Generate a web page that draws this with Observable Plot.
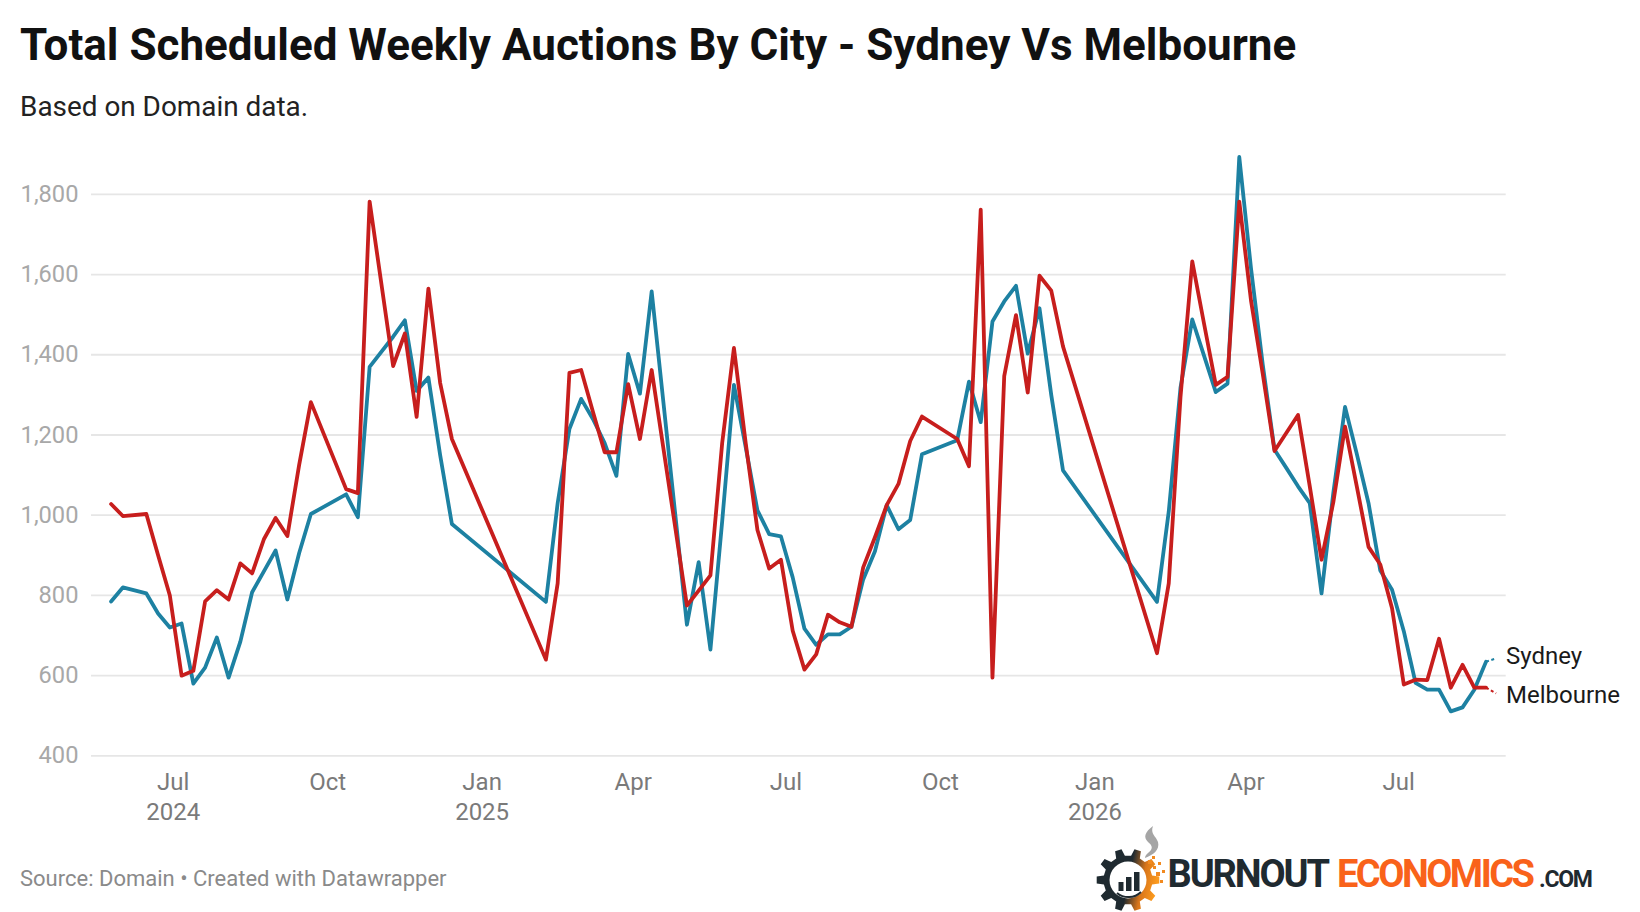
<!DOCTYPE html>
<html>
<head>
<meta charset="utf-8">
<script src="https://cdn.jsdelivr.net/npm/d3@7"></script>
<script src="https://cdn.jsdelivr.net/npm/@observablehq/plot@0.6"></script>
<style>
html,body{margin:0;padding:0;background:#fff;width:1640px;height:912px;overflow:hidden;font-family:Roboto,sans-serif}
#title{position:absolute;left:20px;top:18px;font-size:44px;font-weight:700;color:#111;line-height:54px;white-space:nowrap}
#subtitle{position:absolute;left:20px;top:90px;font-size:27.9px;color:#222;line-height:34px;white-space:nowrap}
#chart{position:absolute;left:0;top:130px}
#source{position:absolute;left:20px;top:864px;font-size:22px;color:#8a8a8a;line-height:30px;white-space:nowrap}
#logo{position:absolute;left:1090px;top:820px}
</style>
</head>
<body>
<div id="title">Total Scheduled Weekly Auctions By City - Sydney Vs Melbourne</div>
<div id="subtitle">Based on Domain data.</div>
<div id="chart"></div>
<div id="source">Source: Domain • Created with Datawrapper</div>
<div id="logo"></div>
<script>
const startDate = "2024-05-25";
const weekNumbers = [0,1,3,4,5,6,7,8,9,10,11,12,13,14,15,16,17,20,21,22,24,25,26,27,28,29,37,38,39,40,41,42,43,44,45,46,49,50,51,52,53,54,55,56,57,58,59,60,61,62,63,64,65,66,67,68,69,72,73,74,75,76,77,78,79,80,81,89,90,91,92,93,94,95,96,97,98,99,100,101,102,103,104,105,106,107,108,109,110,111,112,113,114,115,116,117];
const sydney = [785,820,805,755,720,730,580,620,695,595,685,808,860,912,790,905,1003,1052,995,1370,1445,1486,1310,1343,1150,978,784,1030,1215,1290,1240,1180,1098,1402,1303,1558,727,883,665,985,1325,1170,1012,953,947,845,717,677,703,703,722,840,910,1025,965,988,1152,1187,1333,1232,1483,1533,1572,1403,1516,1300,1112,784,1009,1318,1488,1398,1307,1328,1893,1615,1375,1163,1118,1072,1030,805,1055,1270,1153,1030,862,814,711,582,565,565,511,521,565,635];
const melbourne = [1028,998,1003,900,800,600,612,785,813,790,880,855,940,993,948,1125,1282,1065,1055,1782,1372,1453,1245,1565,1330,1190,640,830,1355,1362,1258,1157,1157,1327,1190,1362,775,812,850,1180,1417,1180,963,867,889,712,615,653,752,733,722,870,945,1025,1078,1185,1246,1190,1122,1762,595,1347,1499,1306,1597,1560,1421,656,830,1295,1633,1478,1325,1345,1782,1535,1352,1160,1205,1250,1072,889,1032,1221,1072,921,877,768,578,590,589,692,570,627,570,570];
const yTicks = [400,600,800,1000,1200,1400,1600,1800];
const xTickDates = ["2024-07-01","2024-10-01","2025-01-01","2025-04-01","2025-07-01","2025-10-01","2026-01-01","2026-04-01","2026-07-01"];
const xTickLabels = ["Jul\n2024","Oct","Jan\n2025","Apr","Jul","Oct","Jan\n2026","Apr","Jul"];
const seriesColors = ["#1d81a2","#c71e1d"];

const weekMs = 7*24*3600*1000;
const start = new Date(startDate+"T00:00:00Z");
const dates = weekNumbers.map(w => new Date(+start + w*weekMs));
const rows = (vals,name) => vals.map((v,i)=>({date:dates[i],value:v,series:name}));
const sydRows = rows(sydney,"Sydney"), melRows = rows(melbourne,"Melbourne");
const ends = [
  {name:"Sydney",date:dates.at(-1),value:sydney.at(-1),to:new Date("2026-08-28"),toValue:643,dy:-4,color:seriesColors[0]},
  {name:"Melbourne",date:dates.at(-1),value:melbourne.at(-1),to:new Date("2026-08-28"),toValue:556,dy:9,color:seriesColors[1]}
];
const tickDates = xTickDates.map(d=>new Date(d+"T00:00:00Z"));

const plot = Plot.plot({
  width:1640, height:690,
  marginLeft:91, marginRight:134.3, marginTop:23.7, marginBottom:64.6,
  style:{fontFamily:"Roboto, sans-serif",background:"transparent",overflow:"visible"},
  x:{type:"utc",domain:[new Date("2024-05-13T08:00:00Z"),new Date("2026-09-03T00:00:00Z")]},
  y:{domain:[400,1900]},
  marks:[
    Plot.gridY(yTicks,{stroke:"#e6e6e6",strokeOpacity:1,strokeWidth:1.8}),
    Plot.axisY(yTicks,{tickSize:0,tickPadding:13,fontSize:23.7,fill:"#a8a8a8",tickFormat:d3.format(","),label:null,textAnchor:"end"}),
    Plot.axisX(tickDates,{tickSize:0,tickPadding:12,fontSize:24,fill:"#7a7a7a",lineHeight:1.27,label:null,lineAnchor:"top",tickFormat:d=>xTickLabels[tickDates.findIndex(t=>+t===+d)]}),
    Plot.line(sydRows,{x:"date",y:"value",stroke:seriesColors[0],strokeWidth:3.8,strokeLinejoin:"round",strokeLinecap:"round"}),
    Plot.line(melRows,{x:"date",y:"value",stroke:seriesColors[1],strokeWidth:3.8,strokeLinejoin:"round",strokeLinecap:"round"}),
    Plot.link(ends,{x1:"date",y1:"value",x2:"to",y2:"toValue",stroke:"color",strokeWidth:2,strokeDasharray:"3,2.5"}),
    Plot.text(ends,{x:"date",y:"value",text:"name",fontSize:24,fill:"#1a1a1a",textAnchor:"start",
      render(index,scales,values,dims,ctx,next){const g=next(index,scales,values,dims,ctx);
        d3.select(g).selectAll("text").each(function(_,j){const i=index[j];d3.select(this).attr("dy",null).attr("transform",`translate(${values.x[i]+20},${values.y[i]+ends[i].dy})`).attr("x",null).attr("y",null).attr("dominant-baseline","middle")});
        return g;}})
  ]
});
document.getElementById("chart").append(plot);

// brand mark
function gearPath(cx,cy,rIn,rOut,n){
  let p="";
  for(let k=0;k<n;k++){
    const a=k/n*2*Math.PI, w=2*Math.PI/n;
    const pts=[[a-w*0.30,rIn],[a-w*0.17,rOut],[a+w*0.17,rOut],[a+w*0.30,rIn]];
    pts.forEach((q,j)=>{const x=cx+q[1]*Math.cos(q[0]),y=cy+q[1]*Math.sin(q[0]);p+=(k===0&&j===0?"M":"L")+x.toFixed(1)+" "+y.toFixed(1)});
  }
  return p+"Z";
}
const sq=[[58,40,4],[63,46,3],[68,42,3],[66,52,4],[72,50,3],[70,60,3],[62,36,3]];
document.getElementById("logo").innerHTML=`
<svg width="550" height="92" viewBox="0 0 550 92" style="overflow:visible">
<defs><linearGradient id="g" x1="0" x2="1" y1="0.15" y2="0.35">
<stop offset="0.55" stop-color="#1f2a30"/><stop offset="0.78" stop-color="#d9751a"/><stop offset="1" stop-color="#fb9a1e"/></linearGradient></defs>
<path d="${gearPath(38,60,24.5,31.5,10)}" fill="url(#g)"/>
<circle cx="38" cy="60" r="18.5" fill="#fff"/>
<rect x="28.5" y="62" width="5" height="9" fill="#1f2a30"/>
<rect x="36" y="57" width="5.5" height="14" fill="#1f2a30"/>
<rect x="44" y="52" width="5.5" height="19" fill="#1f2a30"/>
<path d="M27 73a18 18 0 0 0 24 -1" fill="none" stroke="#1f2a30" stroke-width="2"/>
<path d="M63 6c-8 6-10 11-5 16 5 4 5 7 0 11-2 2-3 3-3 5 8-3 15-8 13-16-2-6-8-8-5-16z" fill="#a5a5a5"/>
${sq.map(s=>`<rect x="${s[0]}" y="${s[1]}" width="${s[2]}" height="${s[2]}" fill="#f28a1f"/>`).join("")}
<g font-family="'Liberation Sans Narrow', Roboto, sans-serif" font-weight="700">
<text x="77.5" y="67" font-size="38" fill="#1f2a30" textLength="162.5">BURNOUT</text>
<text x="247" y="67" font-size="38" fill="#f9621a" textLength="198">ECONOMICS</text>
<text x="449" y="67" font-size="23" fill="#1f2a30" textLength="54">.COM</text>
</g></svg>`;
</script>
</body>
</html>
